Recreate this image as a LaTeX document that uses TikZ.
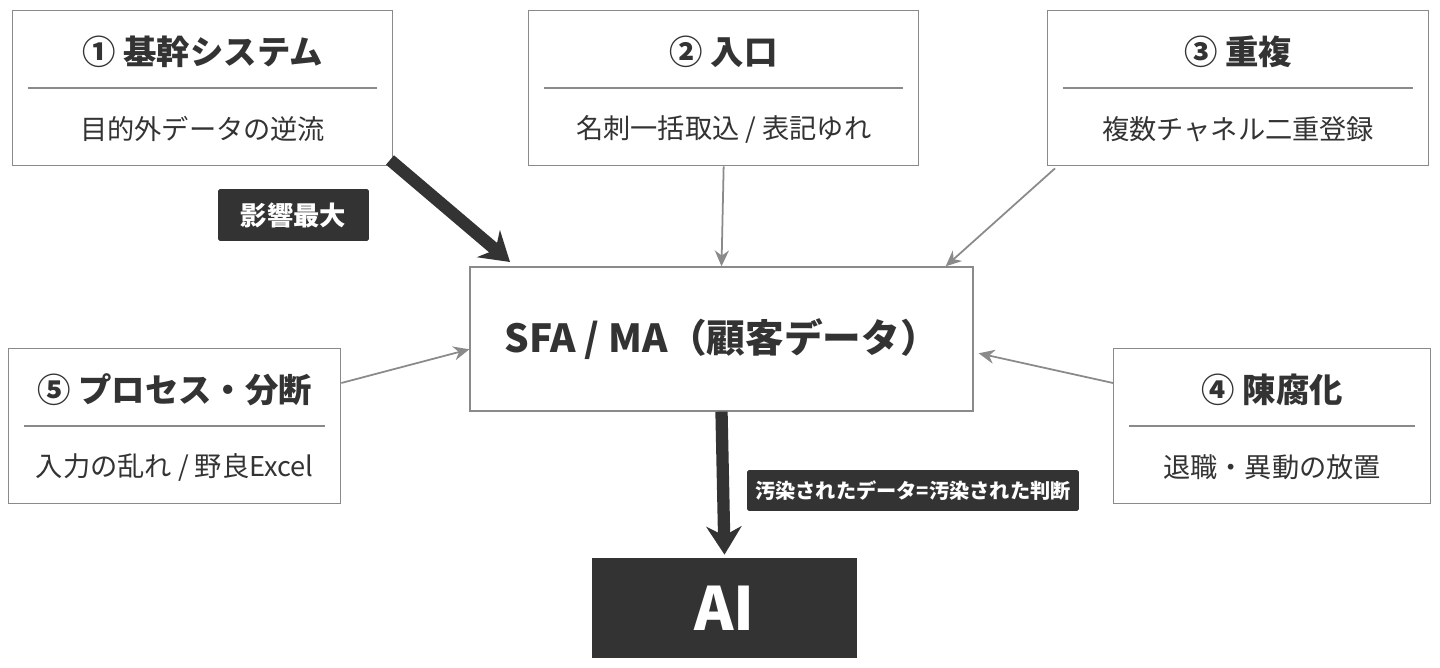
\documentclass[tikz,border=0pt]{standalone}
\usepackage{fontspec}
\setmainfont{Noto Sans CJK JP}
\usetikzlibrary{arrows.meta, positioning}
\definecolor{dark}{HTML}{333333}
\definecolor{edge}{HTML}{8A8A8A}
\tikzset{
  src/.style={draw=edge, line width=0.8pt, fill=white, minimum height=3.1cm, anchor=north west},
  ttl/.style={font=\bfseries\fontsize{19}{23}\selectfont, text=dark},
  sub/.style={font=\fontsize{15.5}{19}\selectfont, text=dark},
  tag/.style={fill=dark, text=white, font=\bfseries, rounded corners=1pt, inner sep=0pt},
  thin/.style={-{Stealth[length=9pt,width=8pt]}, draw=edge, line width=1pt},
  thick/.style={-{Stealth[length=16pt,width=20pt]}, draw=dark, line width=7pt}
}
\begin{document}
\begin{tikzpicture}[x=0.02cm, y=-0.02cm]
\useasboundingbox (0,0) rectangle (1440,668);

% source boxes
\node[src, minimum width=7.6cm] (s1) at (12,10) {};
\node[src, minimum width=7.8cm] (s2) at (528,10) {};
\node[src, minimum width=7.62cm] (s3) at (1047,10) {};
\node[src, minimum width=6.64cm] (s5) at (8,348) {};
\node[src, minimum width=6.34cm] (s4) at (1113,348) {};

\foreach \b/\t/\s in {s1/① 基幹システム/目的外データの逆流, s2/② 入口/{名刺一括取込 / 表記ゆれ},
                      s3/③ 重複/複数チャネル二重登録, s5/⑤ プロセス・分断/{入力の乱れ / 野良Excel},
                      s4/④ 陳腐化/退職・異動の放置} {
  \node[ttl] (\b t) at ([yshift=-0.84cm]\b.north) {\t};
  \node[sub] (\b s) at ([yshift=0.74cm]\b.south) {\s};
  \draw[edge, line width=0.6pt] ([xshift=0.32cm,yshift=-1.56cm]\b.north west) -- ([xshift=-0.32cm,yshift=-1.56cm]\b.north east);
}

% centre and AI
\node[draw=edge, line width=0.8pt, fill=white, minimum width=10.06cm, minimum height=2.88cm, inner sep=0pt,
      font=\bfseries\fontsize{22}{26}\selectfont, text=dark] (sfa) at (721.5,339) {SFA / MA（顧客データ）};
\node[fill=dark, minimum width=5.3cm, minimum height=2cm, text=white,
      font=\bfseries\fontsize{34}{40}\selectfont] (ai) at (724.5,608) {AI};

% tags
\node[tag, minimum width=3.02cm, minimum height=1.04cm, font=\bfseries\fontsize{15}{18}\selectfont] (big) at (293.5,215) {影響最大};
\node[tag, minimum width=6.64cm, minimum height=0.82cm, font=\bfseries\fontsize{11.5}{14}\selectfont] (bad) at (913,490.5) {汚染されたデータ=汚染された判断};

% arrows
\coordinate (c1) at (510,262);
\draw[thick] (390,160) -- (c1);
\draw[thin] (s2.south) -- (sfa.north);
\draw[thin] (s3.south west) ++(8,2) -- ([xshift=-0.56cm]sfa.north east);
\draw[thin] ([yshift=-0.7cm]s5.north east) -- ([yshift=-1.66cm]sfa.north west);
\draw[thin] ([yshift=-0.7cm]s4.north west) -- ([xshift=0.1cm,yshift=-1.74cm]sfa.north east);
\draw[thick] (sfa.south) -- ([yshift=0.06cm]ai.north);
\end{tikzpicture}
\end{document}
